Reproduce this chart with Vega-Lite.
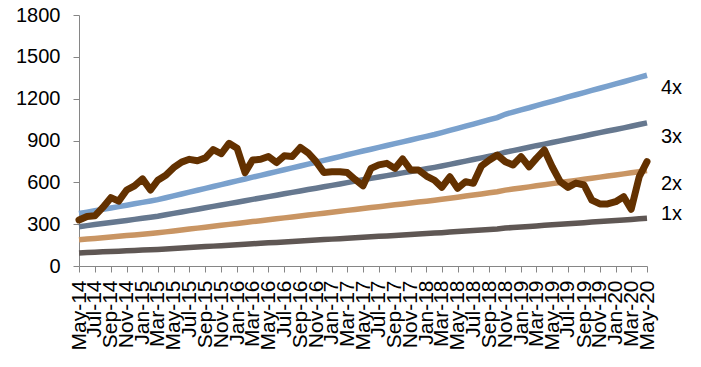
{
  "$schema": "https://vega.github.io/schema/vega-lite/v6.json",
  "width": 568,
  "height": 251,
  "autosize": {"type": "none"},
  "padding": {"left": 79, "top": 15, "right": 54, "bottom": 101},
  "background": "white",
  "config": {"view": {"stroke": null}, "font": "Liberation Sans"},
  "data": {"values": [
    {"d": "2014/05/01", "p": 330, "a": 94, "b": 188, "c": 282, "e": 376},
    {"d": "2014/06/01", "p": 355, "a": 96.5, "b": 193, "c": 289.5, "e": 386},
    {"d": "2014/07/01", "p": 360, "a": 99, "b": 198, "c": 297, "e": 396},
    {"d": "2014/08/01", "p": 420, "a": 101.5, "b": 203, "c": 304.5, "e": 406},
    {"d": "2014/09/01", "p": 490, "a": 104, "b": 208, "c": 312, "e": 416},
    {"d": "2014/10/01", "p": 465, "a": 106.5, "b": 213, "c": 319.5, "e": 426},
    {"d": "2014/11/01", "p": 545, "a": 109, "b": 218, "c": 327, "e": 436},
    {"d": "2014/12/01", "p": 575, "a": 111.5, "b": 223, "c": 334.5, "e": 446},
    {"d": "2015/01/01", "p": 625, "a": 114, "b": 228, "c": 342, "e": 456},
    {"d": "2015/02/01", "p": 545, "a": 116.5, "b": 233, "c": 349.5, "e": 466},
    {"d": "2015/03/01", "p": 615, "a": 119, "b": 238, "c": 357, "e": 476},
    {"d": "2015/04/01", "p": 650, "a": 122.4, "b": 244.8, "c": 367.2, "e": 489.6},
    {"d": "2015/05/01", "p": 705, "a": 125.7, "b": 251.4, "c": 377.1, "e": 502.8},
    {"d": "2015/06/01", "p": 745, "a": 129.1, "b": 258.2, "c": 387.3, "e": 516.4},
    {"d": "2015/07/01", "p": 765, "a": 132.4, "b": 264.8, "c": 397.2, "e": 529.6},
    {"d": "2015/08/01", "p": 755, "a": 135.8, "b": 271.6, "c": 407.4, "e": 543.2},
    {"d": "2015/09/01", "p": 775, "a": 139.1, "b": 278.2, "c": 417.3, "e": 556.4},
    {"d": "2015/10/01", "p": 835, "a": 142.5, "b": 285, "c": 427.5, "e": 570},
    {"d": "2015/11/01", "p": 805, "a": 145.8, "b": 291.6, "c": 437.4, "e": 583.2},
    {"d": "2015/12/01", "p": 880, "a": 149.2, "b": 298.4, "c": 447.6, "e": 596.8},
    {"d": "2016/01/01", "p": 845, "a": 152.5, "b": 305, "c": 457.5, "e": 610},
    {"d": "2016/02/01", "p": 670, "a": 155.9, "b": 311.8, "c": 467.7, "e": 623.6},
    {"d": "2016/03/01", "p": 760, "a": 159.2, "b": 318.4, "c": 477.6, "e": 636.8},
    {"d": "2016/04/01", "p": 765, "a": 162.6, "b": 325.2, "c": 487.8, "e": 650.4},
    {"d": "2016/05/01", "p": 785, "a": 165.9, "b": 331.8, "c": 497.7, "e": 663.6},
    {"d": "2016/06/01", "p": 742, "a": 169.3, "b": 338.6, "c": 507.9, "e": 677.2},
    {"d": "2016/07/01", "p": 790, "a": 172.6, "b": 345.2, "c": 517.8, "e": 690.4},
    {"d": "2016/08/01", "p": 785, "a": 176, "b": 352, "c": 528, "e": 704},
    {"d": "2016/09/01", "p": 850, "a": 179.3, "b": 358.6, "c": 537.9, "e": 717.2},
    {"d": "2016/10/01", "p": 812, "a": 182.7, "b": 365.4, "c": 548.1, "e": 730.8},
    {"d": "2016/11/01", "p": 748, "a": 186, "b": 372, "c": 558, "e": 744},
    {"d": "2016/12/01", "p": 670, "a": 189.4, "b": 378.8, "c": 568.2, "e": 757.6},
    {"d": "2017/01/01", "p": 676, "a": 192.7, "b": 385.4, "c": 578.1, "e": 770.8},
    {"d": "2017/02/01", "p": 676, "a": 196.1, "b": 392.2, "c": 588.3, "e": 784.4},
    {"d": "2017/03/01", "p": 670, "a": 199.4, "b": 398.8, "c": 598.2, "e": 797.6},
    {"d": "2017/04/01", "p": 620, "a": 202.8, "b": 405.6, "c": 608.4, "e": 811.2},
    {"d": "2017/05/01", "p": 575, "a": 206.1, "b": 412.2, "c": 618.3, "e": 824.4},
    {"d": "2017/06/01", "p": 700, "a": 209.4, "b": 418.8, "c": 628.2, "e": 837.6},
    {"d": "2017/07/01", "p": 725, "a": 212.7, "b": 425.4, "c": 638.1, "e": 850.8},
    {"d": "2017/08/01", "p": 736, "a": 216, "b": 432, "c": 648, "e": 864},
    {"d": "2017/09/01", "p": 700, "a": 219.3, "b": 438.6, "c": 657.9, "e": 877.2},
    {"d": "2017/10/01", "p": 767, "a": 222.6, "b": 445.2, "c": 667.8, "e": 890.4},
    {"d": "2017/11/01", "p": 688, "a": 225.9, "b": 451.8, "c": 677.7, "e": 903.6},
    {"d": "2017/12/01", "p": 688, "a": 229.2, "b": 458.4, "c": 687.6, "e": 916.8},
    {"d": "2018/01/01", "p": 645, "a": 232.5, "b": 465, "c": 697.5, "e": 930},
    {"d": "2018/02/01", "p": 615, "a": 235.8, "b": 471.6, "c": 707.4, "e": 943.2},
    {"d": "2018/03/01", "p": 564, "a": 239.1, "b": 478.2, "c": 717.3, "e": 956.4},
    {"d": "2018/04/01", "p": 640, "a": 243, "b": 486, "c": 729, "e": 972},
    {"d": "2018/05/01", "p": 557, "a": 246.8, "b": 493.6, "c": 740.4, "e": 987.2},
    {"d": "2018/06/01", "p": 605, "a": 250.7, "b": 501.4, "c": 752.1, "e": 1002.8},
    {"d": "2018/07/01", "p": 593, "a": 254.5, "b": 509, "c": 763.5, "e": 1018},
    {"d": "2018/08/01", "p": 717, "a": 258.4, "b": 516.8, "c": 775.2, "e": 1033.6},
    {"d": "2018/09/01", "p": 760, "a": 262.3, "b": 524.6, "c": 786.9, "e": 1049.2},
    {"d": "2018/10/01", "p": 796, "a": 266.1, "b": 532.2, "c": 798.3, "e": 1064.4},
    {"d": "2018/11/01", "p": 748, "a": 272, "b": 544, "c": 816, "e": 1088},
    {"d": "2018/12/01", "p": 724, "a": 275.9, "b": 551.8, "c": 827.7, "e": 1103.6},
    {"d": "2019/01/01", "p": 784, "a": 279.8, "b": 559.6, "c": 839.4, "e": 1119.2},
    {"d": "2019/02/01", "p": 712, "a": 283.7, "b": 567.4, "c": 851.1, "e": 1134.8},
    {"d": "2019/03/01", "p": 772, "a": 287.6, "b": 575.2, "c": 862.8, "e": 1150.4},
    {"d": "2019/04/01", "p": 832, "a": 291.4, "b": 582.8, "c": 874.2, "e": 1165.6},
    {"d": "2019/05/01", "p": 712, "a": 295.3, "b": 590.6, "c": 885.9, "e": 1181.2},
    {"d": "2019/06/01", "p": 605, "a": 299.2, "b": 598.4, "c": 897.6, "e": 1196.8},
    {"d": "2019/07/01", "p": 564, "a": 303.1, "b": 606.2, "c": 909.3, "e": 1212.4},
    {"d": "2019/08/01", "p": 595, "a": 307, "b": 614, "c": 921, "e": 1228},
    {"d": "2019/09/01", "p": 581, "a": 310.9, "b": 621.8, "c": 932.7, "e": 1243.6},
    {"d": "2019/10/01", "p": 473, "a": 314.8, "b": 629.6, "c": 944.4, "e": 1259.2},
    {"d": "2019/11/01", "p": 445, "a": 318.7, "b": 637.4, "c": 956.1, "e": 1274.8},
    {"d": "2019/12/01", "p": 445, "a": 322.6, "b": 645.2, "c": 967.8, "e": 1290.4},
    {"d": "2020/01/01", "p": 461, "a": 326.4, "b": 652.8, "c": 979.2, "e": 1305.6},
    {"d": "2020/02/01", "p": 497, "a": 330.3, "b": 660.6, "c": 990.9, "e": 1321.2},
    {"d": "2020/03/01", "p": 407, "a": 334.2, "b": 668.4, "c": 1002.6, "e": 1336.8},
    {"d": "2020/04/01", "p": 640, "a": 338.1, "b": 676.2, "c": 1014.3, "e": 1352.4},
    {"d": "2020/05/01", "p": 748, "a": 342, "b": 684, "c": 1026, "e": 1368}
  ]},
  "layer": [
    {
      "transform": [{"fold": ["a", "b", "c", "e"], "as": ["k", "v"]}],
      "mark": {"type": "line", "strokeWidth": 5.5, "strokeCap": "butt"},
      "encoding": {
        "x": {
          "field": "d", "type": "temporal", "title": null,
          "scale": {"domain": [{"year": 2014, "month": 5, "date": 1}, {"year": 2020, "month": 5, "date": 1}]},
          "axis": {
            "tickCount": {"interval": "month", "step": 2},
            "format": "%b-%y",
            "labelAngle": -90,
            "labelAlign": "right",
            "labelBaseline": "middle",
            "labelFontSize": 21,
            "labelColor": "#000000",
            "labelOverlap": false,
            "labelFlush": false,
            "labelBound": false,
            "labelPadding": 8,
            "tickSize": 6,
            "tickColor": "#868686",
            "domainColor": "#868686",
            "grid": false
          }
        },
        "y": {
          "field": "v", "type": "quantitative", "title": null,
          "scale": {"domain": [0, 1800], "nice": false},
          "axis": {
            "values": [0, 300, 600, 900, 1200, 1500, 1800],
            "format": "d",
            "labelFontSize": 20,
            "labelColor": "#000000",
            "labelPadding": 13,
            "tickSize": 6,
            "tickColor": "#868686",
            "domainColor": "#868686",
            "grid": false,
            "labelFlush": false
          }
        },
        "color": {
          "field": "k", "type": "nominal", "legend": null,
          "scale": {"domain": ["a", "b", "c", "e"], "range": ["#5f5754", "#c99563", "#66788f", "#7aa1cd"]}
        }
      }
    },
    {
      "mark": {"type": "line", "strokeWidth": 7, "color": "#633100", "strokeJoin": "round", "strokeCap": "round"},
      "encoding": {
        "x": {"field": "d", "type": "temporal", "title": null},
        "y": {"field": "p", "type": "quantitative", "title": null}
      }
    },
    {
      "data": {"values": [
        {"d": "2020/05/01", "v": 1276, "t": "4x"},
        {"d": "2020/05/01", "v": 925, "t": "3x"},
        {"d": "2020/05/01", "v": 588, "t": "2x"},
        {"d": "2020/05/01", "v": 373, "t": "1x"}
      ]},
      "mark": {"type": "text", "align": "left", "baseline": "middle", "dx": 14, "fontSize": 20, "color": "#000000"},
      "encoding": {
        "x": {"field": "d", "type": "temporal", "title": null},
        "y": {"field": "v", "type": "quantitative", "title": null},
        "text": {"field": "t"}
      }
    }
  ]
}
